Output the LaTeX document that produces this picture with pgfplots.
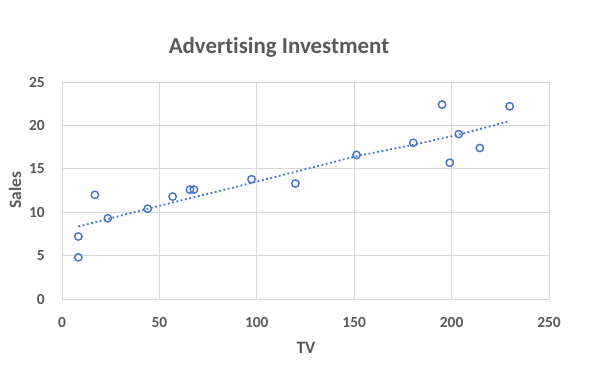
\documentclass[border=0pt]{standalone}
\usepackage{pgfplots}
\pgfplotsset{compat=1.18}
\usepackage{fontspec}
\setmainfont[Ligatures=NoCommon]{Carlito}
\definecolor{txt}{HTML}{595959}
\definecolor{grd}{HTML}{D9D9D9}
\definecolor{blu}{HTML}{4472C4}
\begin{document}
\begin{tikzpicture}[x=1bp,y=1bp]
\begin{axis}[
  at={(62bp,77bp)}, anchor=south west,
  scale only axis, width=487bp, height=217bp,
  xmin=0, xmax=250, ymin=0, ymax=25,
  xtick={0,50,...,250}, ytick={0,5,...,25},
  grid=major, major grid style={color=grd, line width=0.8bp},
  axis line style={color=grd, line width=0.8bp},
  tick style={draw=none},
  /pgf/number format/assume math mode=true,
  ticklabel style={font=\fontsize{15.5}{16}\selectfont\bfseries, text=txt, inner sep=0pt},
  xticklabel style={anchor=center, yshift=-23bp},
  yticklabel style={anchor=east, xshift=-17bp},
  clip=false,
]
\addplot[only marks, mark=o, mark size=3.7bp, mark options={line width=1.4bp, draw=blu}] coordinates {
(8.4,4.8) (8.4,7.2) (16.9,12.0) (23.5,9.3) (44.0,10.4) (56.8,11.8)
(65.7,12.6) (67.7,12.6) (97.3,13.8) (119.8,13.3) (151.2,16.6)
(180.3,18.0) (195.1,22.4) (199.1,15.7) (203.7,19.0) (214.5,17.4) (229.8,22.2)
};
\addplot[blu, line width=1.8bp, dash pattern=on 1.8bp off 2.6bp] coordinates {
(8.4,8.35) (44,10.4) (97,13.35) (151,16.45) (180,17.75) (204,18.95) (230,20.5)
};
\end{axis}
\node[text=txt, font=\fontsize{23}{26}\selectfont\bfseries] at (279,329) {Advertising Investment};
\node[text=txt, font=\fontsize{17.5}{20}\selectfont\bfseries] at (306,28) {TV};
\node[text=txt, font=\fontsize{17.5}{20}\selectfont\bfseries, rotate=90] at (15,186) {Sales};
\pgfresetboundingbox
\useasboundingbox (0,0) rectangle (591,376);
\end{tikzpicture}
\end{document}
